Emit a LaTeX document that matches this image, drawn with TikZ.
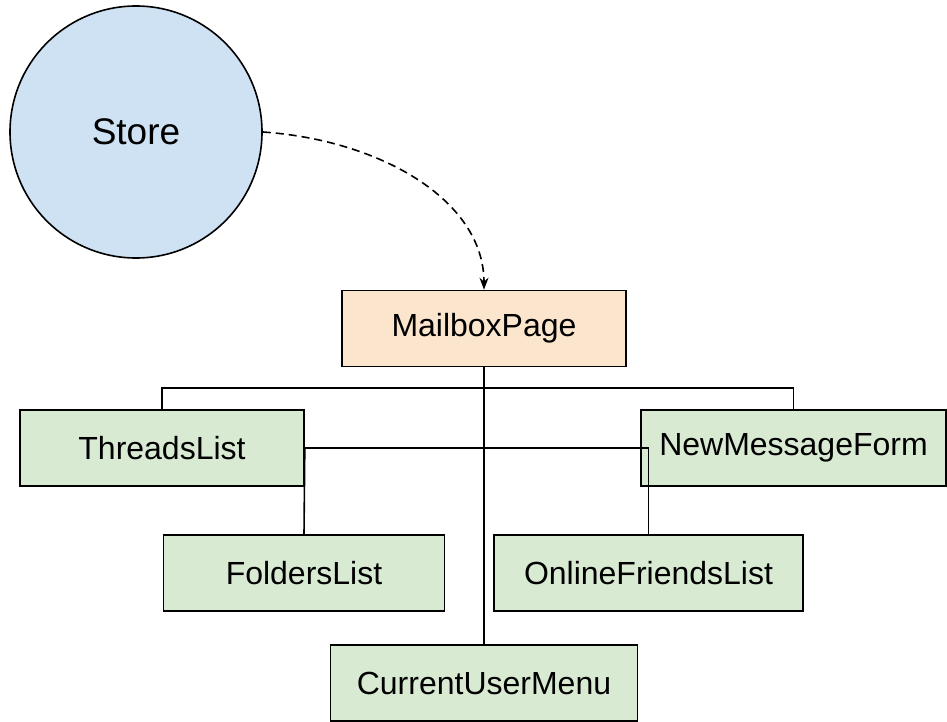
\documentclass[tikz,border=0pt]{standalone}
\usepackage{fontspec}
\setmainfont{Liberation Sans}
\usepackage{tikz}
\usetikzlibrary{arrows.meta,positioning,calc}
\usepackage{xcolor}
\definecolor{storeblue}{HTML}{CFE2F3}
\definecolor{pagepeach}{HTML}{FCE5CD}
\definecolor{compgreen}{HTML}{D9EAD3}
\tikzset{
  comp/.style={draw, rectangle, line width=1.6pt, minimum height=76pt, inner sep=0pt, fill=compgreen, font=\fontsize{32}{38}\selectfont},
  page/.style={comp, fill=pagepeach},
  storecirc/.style={draw, circle, line width=1.6pt, minimum size=252pt, inner sep=0pt, fill=storeblue, font=\fontsize{37}{44}\selectfont},
  link/.style={line width=1.6pt},
  arr/.style={line width=1.6pt, dash pattern=on 8pt off 5pt, -{Stealth[length=12pt,width=9pt,inset=4pt]}},
}

\begin{document}
\begin{tikzpicture}[x=1pt, y=-1pt]
\useasboundingbox (0,0) rectangle (947,722);
\node[storecirc] (st) at (136,132) {Store};
\node[page, minimum width=284pt] (mp) at (484,328.5) {MailboxPage};
\node[comp, minimum width=284pt] (tl) at (162,448) {ThreadsList};
\node[comp, minimum width=305pt] (nmf) at (793.5,448) {NewMessageForm};
\node[comp, minimum width=281pt] (fl) at (304,573) {FoldersList};
\node[comp, minimum width=309pt] (ofl) at (648.5,573) {OnlineFriendsList};
\node[comp, minimum width=307pt, below=277pt of mp] (cum) {CurrentUserMenu};
% store feeds the page
\draw[arr] (st.east) .. controls (380,140) and (484,200) .. (mp.north);
% tree of children
\draw[link] (mp.south) -- (cum.north);
\draw[link] (tl.north) |- ($(mp.south)!.5!(tl.north)$) -| (nmf.north);
\draw[link] (tl.east) -- (fl.north);
\draw[link] (tl.east) -| (ofl.north);
\end{tikzpicture}
\end{document}
